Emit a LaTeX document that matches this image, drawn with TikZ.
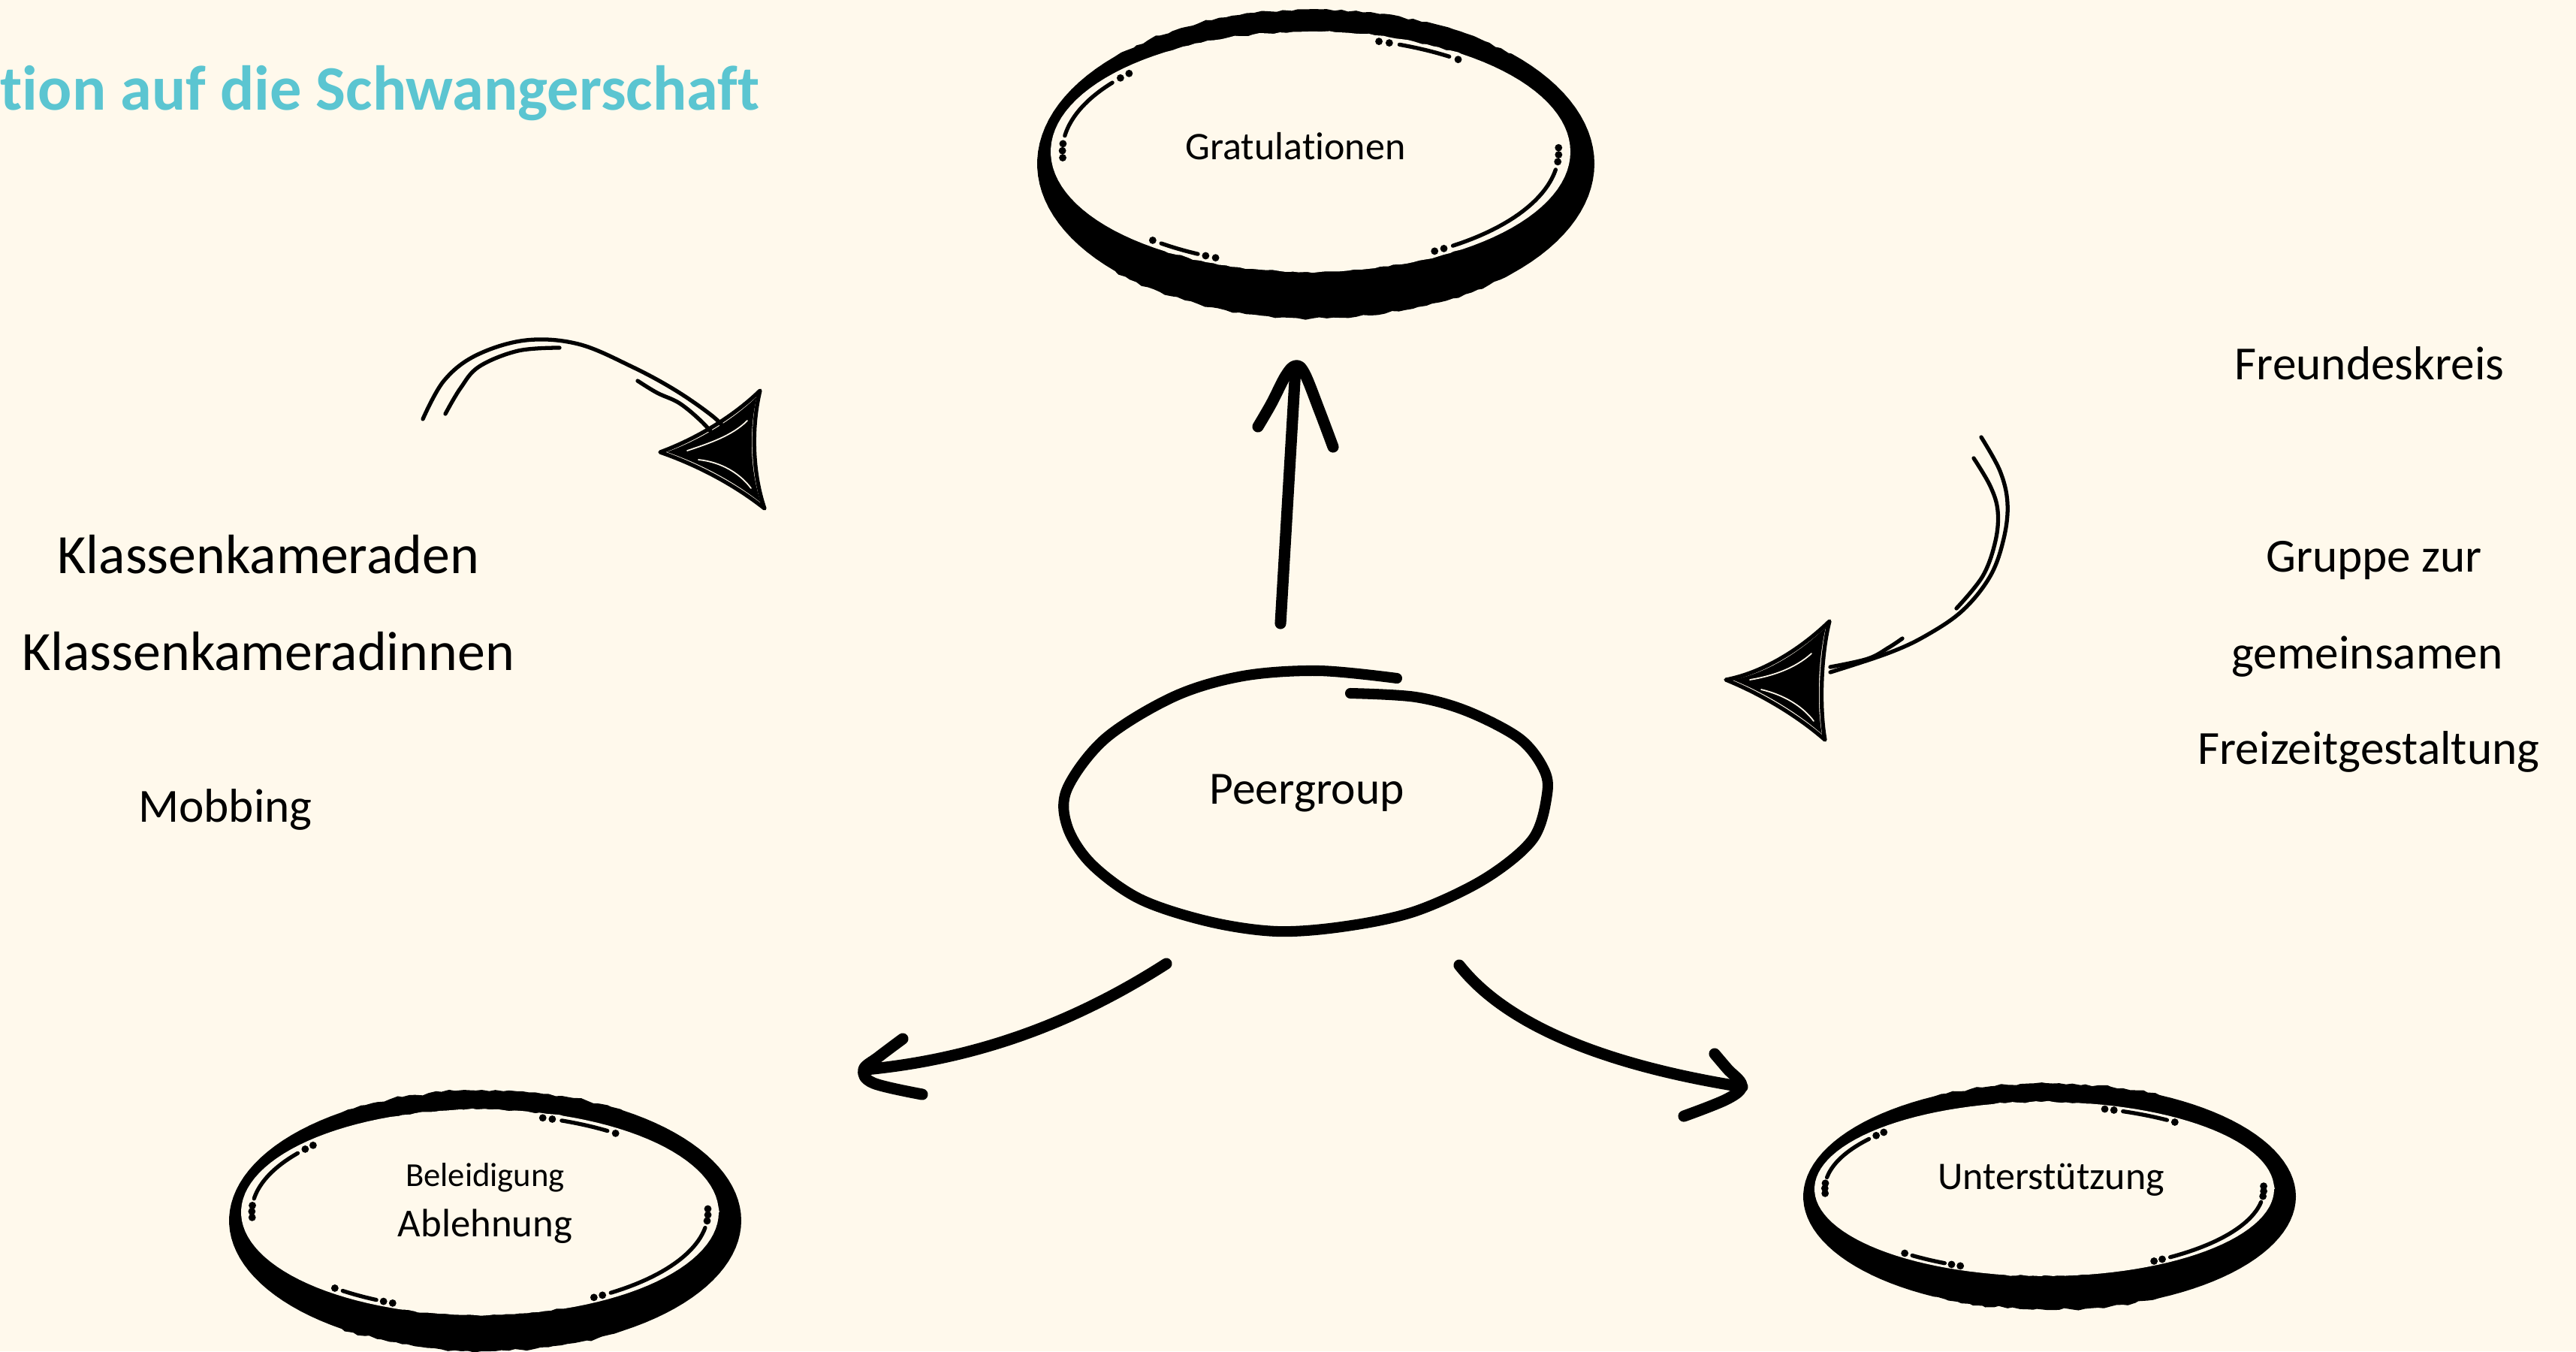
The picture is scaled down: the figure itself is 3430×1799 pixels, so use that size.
\documentclass[tikz,border=0pt]{standalone}
\usepackage{fontspec}
\setmainfont{Carlito}[Ligatures={NoCommon,NoContextual}, RawFeature={-liga;-clig;-dlig}]
\usetikzlibrary{decorations.pathmorphing}
\definecolor{paper}{HTML}{FFF9EC}
\definecolor{titlecyan}{HTML}{5BC5D1}

% ring with a heavy ink band: inner hole (cx,cy,rx,ry) and outer band (cx,cy,rx,ry)
\newcommand{\inkring}[8]{%
  \fill[band] plot[domain=0:360, samples=120] ({#5+#7*cos(\x)},{#6+#8*sin(\x)}) -- cycle;
  \fill[hole] plot[domain=0:360, samples=120] ({#1+#3*cos(\x)},{#2+#4*sin(\x)}) -- cycle;
  \foreach \a/\b in {9/55, 117/127, 188/217, 291/304}
    \draw[glint] plot[domain=\a:\b, samples=24] ({#1+0.955*#3*cos(\x)},{#2+0.955*#4*sin(\x)});
  \foreach \a in {358,1.5,5,57.5,60,112.5,115,129.5,177,180.5,184,220,223,286,288.5,306.5}
    \fill ({#1+0.955*#3*cos(\a)},{#2+0.955*#4*sin(\a)}) circle[radius=1.4pt];
}

\tikzset{
  lbl/.style={inner sep=0pt, anchor=base, text=black},
  band/.style={fill=black, decorate, decoration={random steps, segment length=3pt, amplitude=0.6pt}},
  hole/.style={fill=paper, decorate, decoration={random steps, segment length=3pt, amplitude=0.4pt}},
  glint/.style={line width=1.5pt, line cap=round},
  peerline/.style={line width=4pt, line cap=round, line join=round},
  fatarrow/.style={line width=4.3pt, line cap=round, line join=round},
  sketch/.style={line width=1.5pt, line cap=round, line join=round},
  scratch/.style={draw=paper, line width=0.5pt, line cap=round},
  lefthead/.style={insert path={(879,602) .. controls (925,585) and (975,556) .. (1012,520)
      .. controls (1000,570) and (1002,630) .. (1018,677)
      .. controls (975,643) and (925,618) .. (879,602) -- cycle}},
  righthead/.style={insert path={(2298,905) .. controls (2350,895) and (2400,862) .. (2436,827)
      .. controls (2425,870) and (2422,940) .. (2430,985)
      .. controls (2390,950) and (2340,922) .. (2298,905) -- cycle}},
}

\begin{document}
\begin{tikzpicture}[x=0.01cm, y=-0.01cm]
  \useasboundingbox (0,0) rectangle (3430,1799);
  \fill[paper] (0,0) rectangle (3430,1799);

  % title
  \node[anchor=base west, inner sep=0pt, text=titlecyan,
        font=\bfseries\fontsize{24}{28}\selectfont] (title) at (0,146) {tion auf die Schwangerschaft};

  % the three result rings
  \inkring{1745}{202}{346}{160}{1752}{218}{371}{206}
  \inkring{639}{1614}{318}{137}{646}{1625}{341}{174}
  \inkring{2722}{1583}{306}{116}{2729}{1593}{328}{151}

  \node[lbl, font=\fontsize{14.8}{18}\selectfont] (grat) at (1725,212) {Gratulationen};
  \node[lbl, font=\fontsize{12.7}{15}\selectfont] (beleid) at (646,1579) {Beleidigung};
  \node[lbl, font=\fontsize{15}{18}\selectfont] (ablehn) at (646,1646) {Ablehnung};
  \node[lbl, font=\fontsize{14.8}{18}\selectfont] (unter) at (2731,1583) {Unterstützung};

  % central hand-drawn loop
  \node[lbl, font=\fontsize{17.5}{21}\selectfont] (peer) at (1740,1070) {Peergroup};
  \draw[peerline] plot[smooth, tension=0.55] coordinates {
    (1860,903) (1756,893) (1655,900) (1564,927) (1472,983) (1421,1050) (1421,1100)
    (1453,1150) (1518,1197) (1610,1227) (1701,1240) (1793,1233) (1885,1213)
    (1977,1170) (2041,1117) (2060,1057) (2055,1023) (2023,983) (1954,947)
    (1885,928) (1798,923)};

  % side labels
  \node[lbl, font=\fontsize{21}{25}\selectfont] (kk1) at (357,763) {Klassenkameraden};
  \node[lbl, font=\fontsize{21}{25}\selectfont] (kk2) at (357,892) {Klassenkameradinnen};
  \node[lbl, font=\fontsize{18}{22}\selectfont] (mob) at (300,1094) {Mobbing};
  \node[lbl, font=\fontsize{18}{22}\selectfont] (fk) at (3155,505) {Freundeskreis};
  \node[lbl, font=\fontsize{18}{22}\selectfont] (gz) at (3161,761) {Gruppe zur};
  \node[lbl, font=\fontsize{18}{22}\selectfont] (gm) at (3152,890) {gemeinsamen};
  \node[lbl, font=\fontsize{18}{22}\selectfont] (fz) at (3154,1017) {Freizeitgestaltung};

  % arrow ends
  \coordinate (up-from) at (1705,830);
  \coordinate (up-to) at (1725,490);
  \coordinate (bl-from) at (1553,1283);
  \coordinate (bl-to) at (1152,1424);
  \coordinate (br-from) at (1943,1285);
  \coordinate (br-to) at (2320,1447);

  % Peergroup -> Gratulationen
  \draw[fatarrow] (up-from) -- (up-to);
  \draw[fatarrow] plot[smooth, tension=0.6] coordinates {
    (1675,568) (1693,537) (1712,500) (1725,487) (1737,497) (1757,547) (1775,595)};

  % Peergroup -> Beleidigung / Ablehnung
  \draw[fatarrow] (bl-from) .. controls (1430,1362) and (1300,1410) .. (bl-to);
  \draw[fatarrow] plot[smooth, tension=0.6] coordinates {
    (1202,1383) (1170,1407) (1150,1424) (1163,1442) (1228,1457)};

  % Peergroup -> Unterstützung
  \draw[fatarrow] (br-from) .. controls (2010,1370) and (2150,1420) .. (br-to);
  \draw[fatarrow] plot[smooth, tension=0.6] coordinates {
    (2283,1403) (2300,1423) (2319,1445) (2300,1463) (2242,1486)};

  % sketched arrow towards the class labels
  \draw[sketch] plot[smooth, tension=0.6] coordinates {
    (563,558) (591,507) (634,473) (700,453) (770,458) (841,488) (900,520) (950,555) (968,575)};
  \draw[sketch] plot[smooth, tension=0.6] coordinates {
    (593,551) (613,517) (638,488) (690,467) (745,463)};
  \draw[sketch] plot[smooth, tension=0.6] coordinates {
    (849,507) (875,523) (905,537) (935,562) (955,585)};
  \draw[sketch, lefthead];
  \fill[scale around={0.9:(970,600)}, lefthead];
  \draw[scratch] (915,600) .. controls (945,590) and (975,580) .. (995,560);
  \draw[scratch] (930,612) .. controls (960,615) and (985,630) .. (1000,650);

  % sketched arrow towards the circle of friends
  \draw[sketch] plot[smooth, tension=0.6] coordinates {
    (2638,582) (2663,627) (2673,670) (2668,717) (2650,767) (2613,813) (2563,847) (2513,870) (2437,895)};
  \draw[sketch] plot[smooth, tension=0.6] coordinates {
    (2628,610) (2650,647) (2660,680) (2657,720) (2640,767) (2605,810)};
  \draw[sketch] plot[smooth, tension=0.6] coordinates {
    (2437,888) (2487,877) (2515,862) (2533,850)};
  \draw[sketch, righthead];
  \fill[scale around={0.9:(2388,906)}, righthead];
  \draw[scratch] (2330,905) .. controls (2360,900) and (2390,890) .. (2412,870);
  \draw[scratch] (2345,918) .. controls (2375,925) and (2400,940) .. (2415,960);
\end{tikzpicture}
\end{document}
